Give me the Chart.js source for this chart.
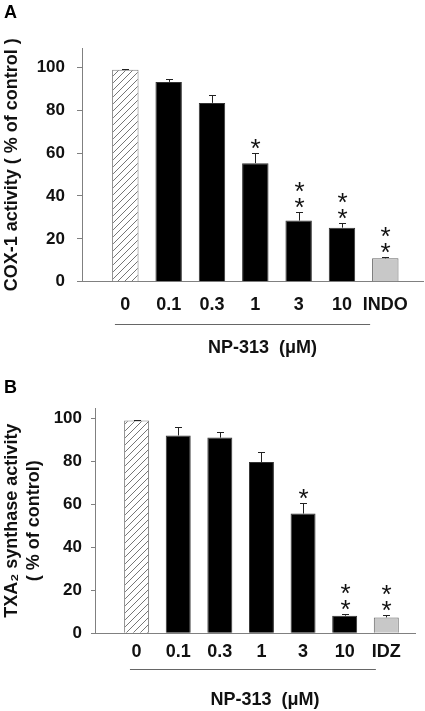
<!DOCTYPE html>
<html>
<head>
<meta charset="utf-8">
<script src="https://cdn.jsdelivr.net/npm/chart.js@4.4.1/dist/chart.umd.min.js"></script>
<style>
  html, body { margin: 0; padding: 0; background: #fff; }
  .panel { position: relative; width: 425px; }
</style>
</head>
<body>
<div class="panel" style="height:360px"><canvas id="coxChart" width="425" height="360"></canvas></div>
<div class="panel" style="height:351px"><canvas id="txaChart" width="425" height="351"></canvas></div>
<script>
// doses of NP-313 (uM) plus reference drug
const doseLabels = ["0", "0.1", "0.3", "1", "3", "10"];
const coxLabels = [...doseLabels, "INDO"];
const txaLabels = [...doseLabels, "IDZ"];

// COX-1 activity (% of control)
const coxMean = [98.9, 93.2, 83.4, 55.3, 28.5, 25.2, 10.9];
const coxErr = [0.3, 1.2, 3.5, 4.7, 3.9, 2.4, 0.5];
const coxSig = [0, 0, 0, 1, 2, 2, 2];

// TXA2 synthase activity (% of control)
const txaMean = [99.2, 92.2, 91.2, 79.8, 55.8, 8.2, 7.4];
const txaErr = [0.3, 3.9, 2.8, 4.8, 5.0, 0.9, 1.0];
const txaSig = [0, 0, 0, 0, 1, 2, 2];

const yTicks = [0, 20, 40, 60, 80, 100];

Chart.defaults.font.family = "'Liberation Sans', Arial, sans-serif";
Chart.defaults.color = "#111";

function hatch() {
  const c = document.createElement("canvas");
  c.width = 7;
  c.height = 7;
  const g = c.getContext("2d");
  g.fillStyle = "#fff";
  g.fillRect(0, 0, 7, 7);
  g.strokeStyle = "#666";
  g.lineWidth = 0.9;
  g.beginPath();
  g.moveTo(-1, 8); g.lineTo(8, -1);
  g.moveTo(-1, 1); g.lineTo(1, -1);
  g.moveTo(6, 8); g.lineTo(8, 6);
  g.stroke();
  return g.createPattern(c, "repeat");
}

// error bars, significance stars and the NP-313 bracket
const extras = {
  id: "extras",
  afterDatasetsDraw(chart, args, opts) {
    const { ctx, scales: { x, y }, chartArea } = chart;
    ctx.save();
    ctx.strokeStyle = "#222";
    ctx.lineWidth = 1;
    opts.mean.forEach((v, i) => {
      const px = Math.round(x.getPixelForValue(i + 1)) + 0.5;
      const base = y.getPixelForValue(v);
      const top = Math.round(y.getPixelForValue(v + opts.err[i])) + 0.5;
      ctx.beginPath();
      ctx.moveTo(px, base);
      ctx.lineTo(px, top);
      ctx.moveTo(px - 3.5, top);
      ctx.lineTo(px + 3.5, top);
      ctx.stroke();

      ctx.fillStyle = "#111";
      ctx.font = "26px 'Liberation Sans', Arial, sans-serif";
      ctx.textAlign = "center";
      ctx.textBaseline = "alphabetic";
      for (let k = 0; k < opts.sig[i]; k++) {
        const cy = top - 12 - k * 16;
        ctx.fillText("*", px, cy + 15);
      }
    });

    ctx.strokeStyle = "#666";
    ctx.beginPath();
    const by = Math.round(chartArea.bottom + opts.bracketGap) + 0.5;
    ctx.moveTo(x.getPixelForValue(opts.bracket[0]), by);
    ctx.lineTo(x.getPixelForValue(opts.bracket[1]), by);
    ctx.stroke();
    ctx.restore();
  },
};

function makeChart(id, cfg) {
  const pattern = hatch();
  const n = cfg.labels.length;
  const colors = cfg.labels.map((_, i) => (i === 0 ? pattern : i === n - 1 ? "#c8c8c8" : "#000"));
  const borders = cfg.labels.map((_, i) => (i === 0 ? "#777" : i === n - 1 ? "#666" : "#333"));

  return new Chart(document.getElementById(id).getContext("2d"), {
    type: "bar",
    data: {
      datasets: [
        {
          data: cfg.mean.map((v, i) => ({ x: i + 1, y: v })),
          backgroundColor: colors,
          borderColor: borders,
          borderWidth: 1,
          categoryPercentage: 1,
          barPercentage: cfg.barPct,
        },
      ],
    },
    options: {
      responsive: false,
      animation: false,
      layout: { padding: { left: 4, right: cfg.padRight, top: 0, bottom: 0 } },
      plugins: {
        legend: { display: false },
        tooltip: { enabled: false },
        title: {
          display: true,
          text: cfg.panel,
          align: "start",
          color: "#000",
          font: { size: 18, weight: "bold" },
          padding: cfg.panelPad,
        },
        extras: {
          mean: cfg.mean,
          err: cfg.err,
          sig: cfg.sig,
          bracket: cfg.bracket,
          bracketGap: cfg.bracketGap,
        },
      },
      scales: {
        x: {
          type: "linear",
          offset: false,
          min: 0,
          max: cfg.xMax,
          afterBuildTicks: (axis) => {
            axis.ticks = cfg.labels.map((_, i) => ({ value: i + 1 }));
          },
          afterFit: (axis) => {
            axis.height = cfg.xHeight;
            axis.paddingLeft = 0;
            axis.paddingRight = 0;
          },
          grid: { display: false, drawTicks: false, offset: false },
          border: { display: true, color: "#808080", width: 1 },
          ticks: {
            padding: cfg.xTickPad,
            font: { size: 18, weight: "bold" },
            color: "#111",
            maxRotation: 0,
            autoSkip: false,
            callback: (v) => cfg.labels[v - 1] ?? "",
          },
          title: {
            display: true,
            text: "    NP-313  (\u03bcM)",
            color: "#111",
            font: { size: 18, weight: "bold" },
            padding: { top: 0, bottom: cfg.xTitlePad },
          },
        },
        y: {
          min: 0,
          max: cfg.yMax,
          afterBuildTicks: (axis) => {
            axis.ticks = yTicks.map((v) => ({ value: v }));
          },
          afterFit: (axis) => {
            axis.width = cfg.yWidth;
          },
          grid: { drawOnChartArea: false, drawTicks: true, tickLength: cfg.tickLen, color: "#808080" },
          border: { display: true, color: "#808080", width: 1 },
          ticks: {
            padding: cfg.yTickPad,
            font: { size: 17, weight: "bold" },
            color: "#111",
          },
          title: {
            display: true,
            text: cfg.yTitle,
            color: "#111",
            font: { size: 18, weight: "bold", lineHeight: 1.2 },
            padding: { top: -2.8, bottom: 0 },
          },
        },
      },
    },
    plugins: [extras],
  });
}

makeChart("coxChart", {
  panel: "A",
  panelPad: { top: 2.5, bottom: 23.9 },
  labels: coxLabels,
  mean: coxMean,
  err: coxErr,
  sig: coxSig,
  yTitle: "COX-1 activity ( % of control )",
  yMax: 109,
  xMax: 7.87,
  barPct: 0.61,
  padRight: 2,
  yWidth: 78,
  tickLen: 5,
  yTickPad: 12,
  xHeight: 78.3,
  xTickPad: 12.2,
  xTitlePad: 1.2,
  bracket: [0.76, 6.65],
  bracketGap: 42,
});

makeChart("txaChart", {
  panel: "B",
  panelPad: { top: 17.2, bottom: 9.2 },
  labels: txaLabels,
  mean: txaMean,
  err: txaErr,
  sig: txaSig,
  yTitle: ["TXA\u2082 synthase activity", "( % of control)"],
  yMax: 105,
  xMax: 7.69,
  barPct: 0.6,
  padRight: 10,
  yWidth: 91,
  tickLen: 4,
  yTickPad: 9,
  xHeight: 77.7,
  xTickPad: 7.9,
  xTitlePad: 0.2,
  bracket: [0.84, 6.75],
  bracketGap: 36,
});
</script>
</body>
</html>
